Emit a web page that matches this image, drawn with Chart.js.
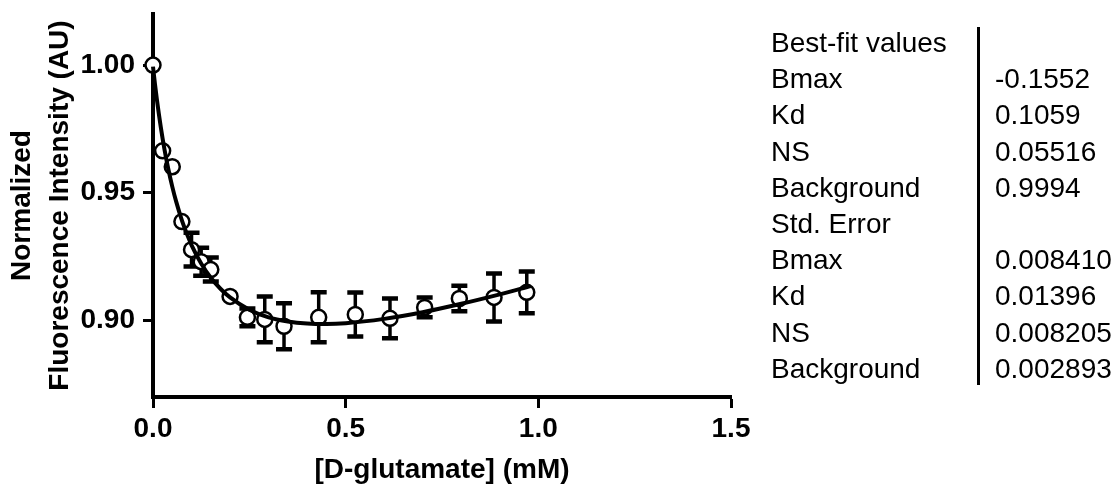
<!DOCTYPE html>
<html>
<head>
<meta charset="utf-8">
<script src="https://cdn.jsdelivr.net/npm/chart.js@4.4.1/dist/chart.umd.min.js"></script>
<style>
    html, body { margin: 0; padding: 0; background: #fff; }
    #wrap { position: relative; width: 1120px; height: 484px; }
    #wrap canvas { position: absolute; left: 0; top: 0; }
    .fit-tab { position: absolute; left: 0; top: 0; font-family: 'Liberation Sans', Arial, sans-serif; font-size: 28px; color: #000; }
    .fit-tab .row { position: absolute; white-space: nowrap; line-height: 28px; }
    .fit-tab .sep { position: absolute; left: 977px; top: 27px; width: 3px; height: 358px; background: #000; }
</style>
</head>
<body>
<div id="wrap">
    <canvas id="chartBinding" width="1120" height="484"></canvas>
    <div class="fit-tab" id="fitTable"><div class="sep"></div></div>
</div>
<script>
'use strict';

// ─────────────────────────────────────────────────────────────────────────────
// DONNÉES
// ─────────────────────────────────────────────────────────────────────────────

var concentrations = [0, 0.025, 0.05, 0.075, 0.1, 0.125, 0.15, 0.2, 0.245, 0.29, 0.34, 0.43, 0.525, 0.615, 0.705, 0.795, 0.885, 0.97];
var intensites = [1.000, 0.9664, 0.9602, 0.9387, 0.9277, 0.9230, 0.9199, 0.9094, 0.9012, 0.9004, 0.8977, 0.9012, 0.9023, 0.9008, 0.9051, 0.9086, 0.9090, 0.9110];
var erreurs = [0, 0, 0, 0, 0.0066, 0.0055, 0.0047, 0, 0.0035, 0.009, 0.009, 0.0098, 0.0086, 0.0078, 0.0039, 0.005, 0.0094, 0.0082];

// courbe d'ajustement
var courbeX = [0, 0.005, 0.01, 0.02, 0.03, 0.04, 0.05, 0.06, 0.075, 0.09, 0.1, 0.125, 0.15, 0.175, 0.2, 0.25, 0.3, 0.35, 0.4, 0.45, 0.5, 0.6, 0.7, 0.8, 0.9, 0.98];
var courbeY = [0.9994, 0.9927, 0.9866, 0.9759, 0.9668, 0.9591, 0.9524, 0.9466, 0.9392, 0.9331, 0.9295, 0.9223, 0.9167, 0.9124, 0.9090, 0.9042, 0.9012, 0.8996, 0.8988, 0.8986, 0.8989, 0.9006, 0.9032, 0.9065, 0.9102, 0.9134];

var ticksX = [0, 0.5, 1.0, 1.5];
var ticksY = [0.90, 0.95, 1.00];

var tableLabels = ['Best-fit values', 'Bmax', 'Kd', 'NS', 'Background', 'Std. Error', 'Bmax', 'Kd', 'NS', 'Background'];
var tableValeurs = ['', '-0.1552', '0.1059', '0.05516', '0.9994', '', '0.008410', '0.01396', '0.008205', '0.002893'];

var FONT = "'Liberation Sans', Arial, sans-serif";

// ─────────────────────────────────────────────────────────────────────────────
// Barres d'erreur (dessinées avec les échelles du graphique)
// ─────────────────────────────────────────────────────────────────────────────

var errorBarsPlugin = {
    id: 'errorBars',
    beforeDatasetsDraw: function(chart) {
        var ctx = chart.ctx;
        var sx = chart.scales.x;
        var sy = chart.scales.y;
        ctx.save();
        ctx.strokeStyle = '#000';
        for (var i = 0; i < concentrations.length; i++) {
            if (!erreurs[i]) continue;
            var px = sx.getPixelForValue(concentrations[i]);
            var top = sy.getPixelForValue(intensites[i] + erreurs[i]);
            var bot = sy.getPixelForValue(intensites[i] - erreurs[i]);
            ctx.lineWidth = 3.5;
            ctx.beginPath();
            ctx.moveTo(px, top);
            ctx.lineTo(px, bot);
            ctx.stroke();
            ctx.lineWidth = 4.5;
            ctx.beginPath();
            ctx.moveTo(px - 8, top);
            ctx.lineTo(px + 8, top);
            ctx.moveTo(px - 8, bot);
            ctx.lineTo(px + 8, bot);
            ctx.stroke();
        }
        ctx.restore();
    }
};

function buildTable() {
    var tab = document.getElementById('fitTable');
    for (var i = 0; i < tableLabels.length; i++) {
        var cy = 43 + i * 36.2;
        var lab = document.createElement('div');
        lab.className = 'row';
        lab.style.left = '771px';
        lab.style.top = (cy - 14) + 'px';
        lab.textContent = tableLabels[i];
        tab.appendChild(lab);
        if (tableValeurs[i]) {
            var val = document.createElement('div');
            val.className = 'row';
            val.style.left = '995px';
            val.style.top = (cy - 14) + 'px';
            val.textContent = tableValeurs[i];
            tab.appendChild(val);
        }
    }
}

function initChartBinding() {
    var ctx = document.getElementById('chartBinding');
    var points = concentrations.map(function(c, i) { return { x: c, y: intensites[i] }; });
    var courbe = courbeX.map(function(c, i) { return { x: c, y: courbeY[i] }; });

    return new Chart(ctx, {
        type: 'scatter',
        data: {
            datasets: [
                {
                    label: 'Ajustement',
                    data: courbe,
                    showLine: true,
                    borderColor: '#000',
                    borderWidth: 4,
                    pointRadius: 0,
                    cubicInterpolationMode: 'monotone',
                    clip: false,
                    order: 0
                },
                {
                    label: 'Mesures',
                    data: points,
                    pointRadius: 7.5,
                    pointBorderWidth: 2.5,
                    pointBackgroundColor: '#fff',
                    pointBorderColor: '#000',
                    clip: false,
                    order: 1
                }
            ]
        },
        options: {
            responsive: false,
            animation: false,
            layout: { padding: { top: 14, right: 389, left: 0, bottom: 0 } },
            plugins: {
                legend: { display: false },
                tooltip: { enabled: false }
            },
            scales: {
                x: {
                    type: 'linear',
                    min: 0,
                    max: 1.5,
                    afterFit: function(scale) {
                        scale.height = 87;
                        scale.paddingLeft = 0;
                        scale.paddingRight = 0;
                    },
                    afterBuildTicks: function(scale) {
                        scale.ticks = ticksX.map(function(v) { return { value: v }; });
                    },
                    border: { display: true, color: '#000', width: 4 },
                    grid: { drawOnChartArea: false, color: '#000', tickColor: '#000', tickLength: 11, tickWidth: 3 },
                    ticks: {
                        color: '#000',
                        padding: 4,
                        font: { family: FONT, size: 28, weight: 'bold' },
                        callback: function(v) { return Number(v).toFixed(1); }
                    },
                    title: {
                        display: true,
                        text: '[D-glutamate] (mM)',
                        color: '#000',
                        padding: { top: 0, bottom: 0 },
                        font: { family: FONT, size: 28, weight: 'bold', lineHeight: 1 }
                    }
                },
                y: {
                    type: 'linear',
                    min: 0.87,
                    max: 1.02,
                    afterFit: function(scale) {
                        scale.width = 153;
                        scale.paddingTop = 0;
                        scale.paddingBottom = 0;
                    },
                    afterBuildTicks: function(scale) {
                        scale.ticks = ticksY.map(function(v) { return { value: v }; });
                    },
                    border: { display: true, color: '#000', width: 4 },
                    grid: { drawOnChartArea: false, color: '#000', tickColor: '#000', tickLength: 10, tickWidth: 3 },
                    ticks: {
                        color: '#000',
                        padding: 8,
                        font: { family: FONT, size: 28, weight: 'bold' },
                        callback: function(v) { return Number(v).toFixed(2); }
                    },
                    title: {
                        display: true,
                        text: ['Normalized', 'Fluorescence Intensity (AU)'],
                        color: '#000',
                        padding: { top: 3, bottom: 0 },
                        font: { family: FONT, size: 28, weight: 'bold', lineHeight: 1.36 }
                    }
                }
            }
        },
        plugins: [errorBarsPlugin]
    });
}

buildTable();
window.chartBinding = initChartBinding();
</script>
</body>
</html>
